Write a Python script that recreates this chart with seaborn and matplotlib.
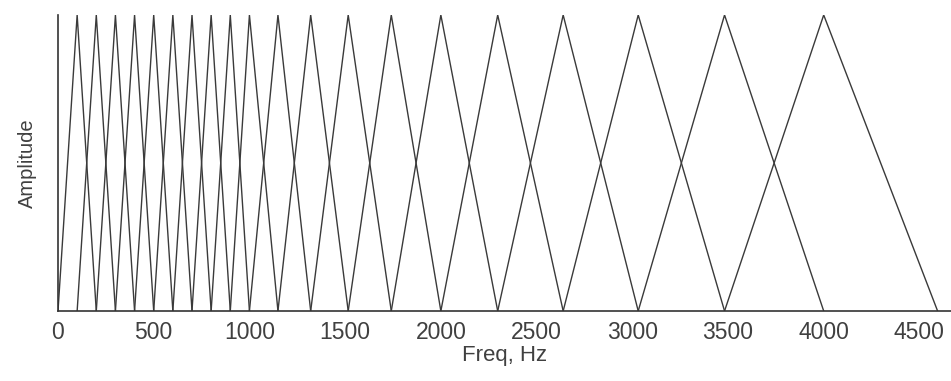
import matplotlib
matplotlib.use("Agg")
import matplotlib.pyplot as plt
import seaborn as sns
import pandas as pd

# Filter band edges (Hz): each triangle rises from edge[i] to peak edge[i+1], falls to edge[i+2]
edges = [0, 100, 200, 300, 400, 500, 600, 700, 800, 900, 1000,
         1149, 1320, 1516, 1741, 2000, 2297, 2639, 3031, 3482, 4000, 4595]
shape = [0.0, 1.0, 0.0]
xticks = [0, 500, 1000, 1500, 2000, 2500, 3000, 3500, 4000, 4500]

rows = []
for i in range(len(edges) - 2):
    for k in range(3):
        rows.append({"filter": i, "freq": edges[i + k], "amp": shape[k]})
df = pd.DataFrame(rows)

sns.set_theme(style="white")
plt.rcParams['font.family'] = ['Liberation Sans', 'DejaVu Sans']

fig = plt.figure(figsize=(9.51, 3.81), dpi=100)
ax = fig.add_axes([58 / 951, 1 - 311 / 381, 1 - 58 / 951, (311 - 15) / 381])

sns.lineplot(data=df, x="freq", y="amp", units="filter", estimator=None,
             color="#3a3a3a", linewidth=1.0, ax=ax, sort=False)

ax.set_xlim(0, 4665)
ax.set_ylim(0, 1)
ax.set_xticks(xticks)
ax.set_xticklabels([str(t) for t in xticks], fontsize=16.5, color="#404040")
ax.set_yticks([])
ax.tick_params(axis="x", direction="in", length=4, width=0.8, color="#333333", pad=7)
for s in ["top", "right"]:
    ax.spines[s].set_visible(False)
for s in ["left", "bottom"]:
    ax.spines[s].set_color("#333333")
    ax.spines[s].set_linewidth(1.2)
ax.set_xlabel("Freq, Hz", fontsize=16, color="#404040", labelpad=1)
ax.set_ylabel("Amplitude", fontsize=14.5, color="#404040", labelpad=15)

fig.savefig("out.png", dpi=100)
